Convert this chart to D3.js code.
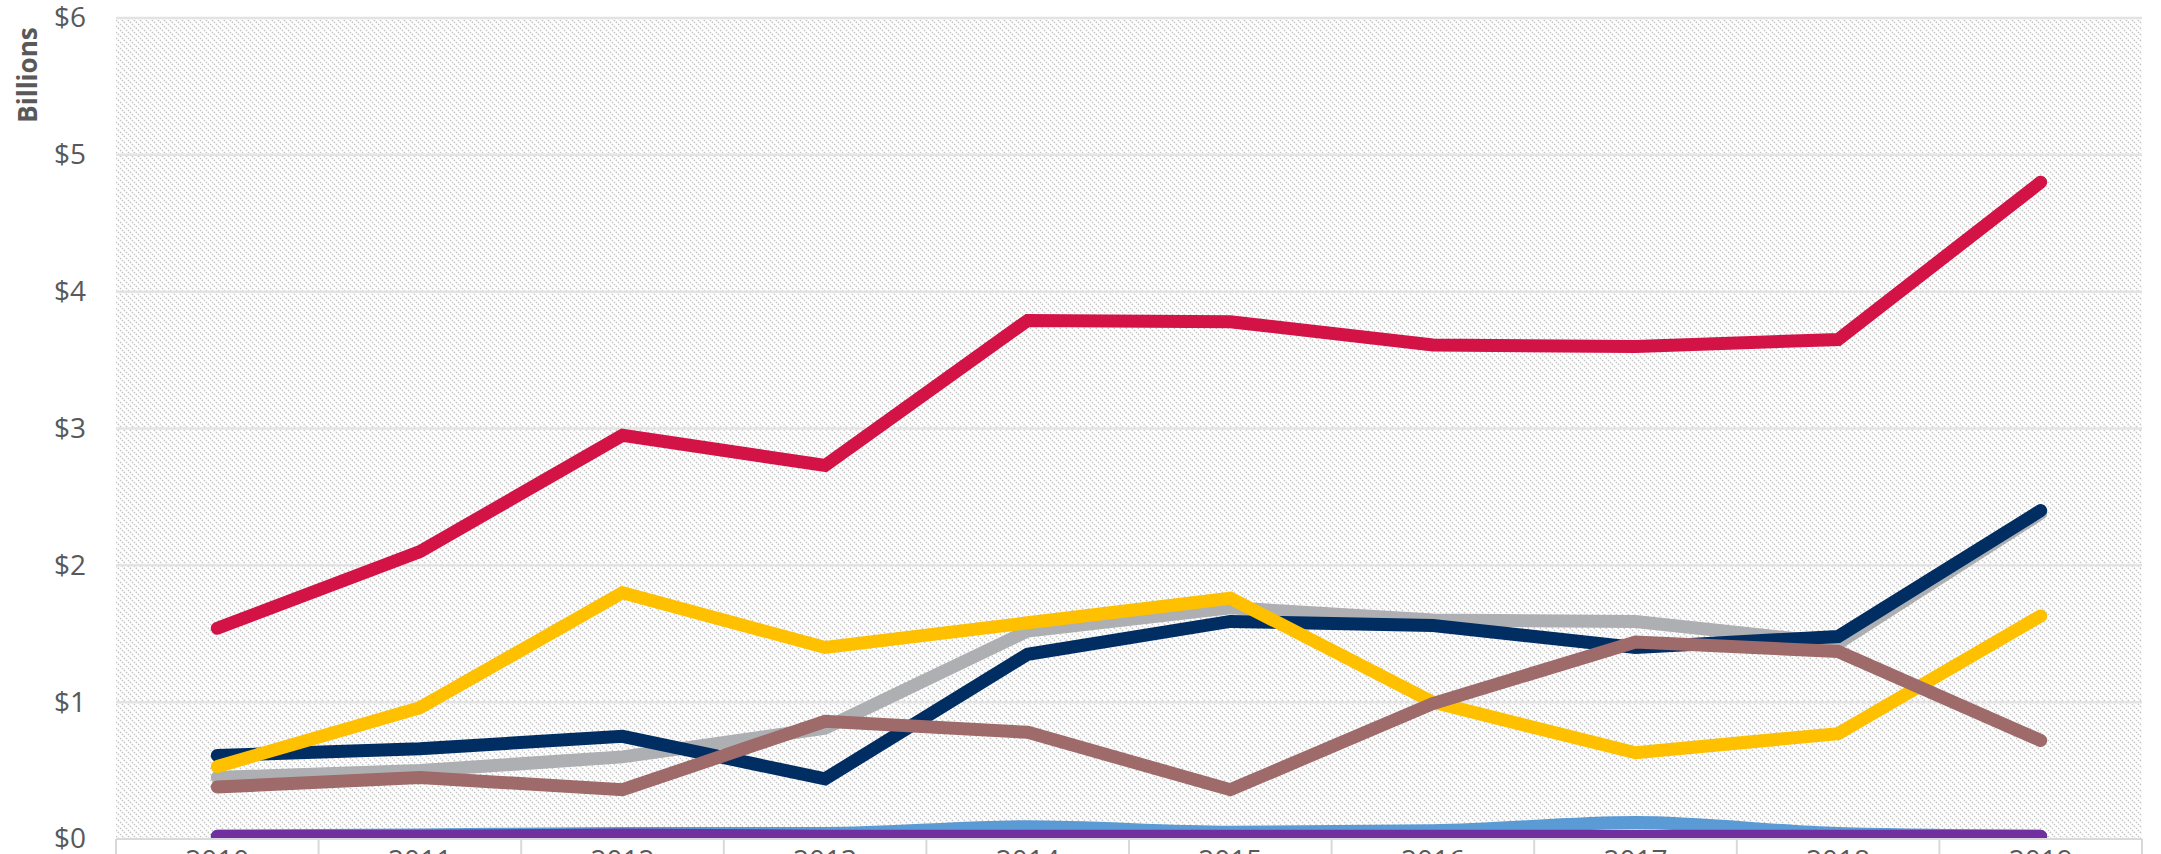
<!DOCTYPE html>
<html lang="en">
  <meta charset="utf-8">
  <style>
    body { margin: 0; background: #fff; }
    text { font-family: "Open Sans", sans-serif; fill: #595959; }
  </style>
  <body>
    <svg width="2161" height="854"></svg>

    <script src="https://d3js.org/d3.v7.min.js"></script>
    <script>
    // data, in billions of dollars
    let years = ['2010','2011','2012','2013','2014','2015','2016','2017','2018','2019']
    let yTicks = [0, 1, 2, 3, 4, 5, 6]

    let lightBlue = [0.02, 0.03, 0.04, 0.04, 0.09, 0.05, 0.06, 0.12, 0.04, 0.02]
    let purple    = [0.02, 0.02, 0.03, 0.02, 0.02, 0.02, 0.02, 0.02, 0.02, 0.02]
    let gray      = [0.45, 0.50, 0.60, 0.81, 1.52, 1.69, 1.60, 1.59, 1.43, 2.38]
    let navy      = [0.61, 0.66, 0.75, 0.44, 1.35, 1.59, 1.56, 1.40, 1.48, 2.40]
    let yellow    = [0.53, 0.96, 1.80, 1.40, 1.58, 1.76, 1.00, 0.63, 0.77, 1.63]
    let brown     = [0.38, 0.45, 0.36, 0.86, 0.78, 0.36, 0.99, 1.44, 1.37, 0.72]
    let red       = [1.54, 2.10, 2.95, 2.73, 3.79, 3.78, 3.61, 3.60, 3.65, 4.80]

    // drawing order = order in this list (later on top)
    let series = [
      { values: lightBlue, color: '#5b9bd5', smooth: true },
      { values: purple,    color: '#7030a0' },
      { values: gray,      color: '#adafb2' },
      { values: navy,      color: '#002d62' },
      { values: yellow,    color: '#ffc000' },
      { values: brown,     color: '#9e6a6a' },
      { values: red,       color: '#d31245' }
    ]

    let plotL = 116, plotR = 2142, plotT = 18, plotB = 839

    let x = d3.scaleBand().domain(years).range([plotL, plotR])
    let y = d3.scaleLinear().domain([0, 6]).range([plotB, plotT])

    let svg = d3.select('svg')
    let defs = svg.append('defs')

    // hatched plot background
    let pat = defs.append('pattern')
      .attr('id', 'hatch')
      .attr('patternUnits', 'userSpaceOnUse')
      .attr('width', 6).attr('height', 6)
    pat.append('path')
      .attr('d', 'M0,0 L6,6 M-1,5 L1,7 M5,-1 L7,1')
      .attr('stroke', '#c4c4c4')
      .attr('stroke-width', 1.5)
      .attr('stroke-dasharray', '1.5,1.2')

    defs.append('clipPath').attr('id', 'plot')
      .append('rect')
      .attr('x', plotL - 20).attr('y', 0)
      .attr('width', plotR - plotL + 40).attr('height', plotB)

    svg.append('rect')
      .attr('x', plotL).attr('y', plotT)
      .attr('width', plotR - plotL).attr('height', plotB - plotT)
      .attr('fill', 'url(#hatch)')

    // gridlines
    svg.append('g').selectAll('line')
      .data(yTicks.slice(1)).enter()
      .append('line')
      .attr('x1', plotL).attr('x2', plotR)
      .attr('y1', d => y(d)).attr('y2', d => y(d))
      .attr('stroke', '#e3e3e3')
      .attr('stroke-width', 2.5)

    // y axis labels
    let yAxis = g => g.call(d3.axisLeft(y).tickValues(yTicks).tickSize(0).tickPadding(0)
                              .tickFormat(d => '$' + d))
    let ya = svg.append('g').attr('transform', `translate(${plotL - 30},0)`).call(yAxis)
    ya.select('.domain').remove()
    ya.selectAll('text')
      .attr('font-size', '28px')
      .attr('font-family', '"Open Sans", sans-serif')
      .attr('fill', '#595959')

    svg.append('text')
      .attr('transform', 'translate(37,75) rotate(-90)')
      .attr('text-anchor', 'middle')
      .attr('font-size', '26px')
      .attr('font-weight', 'bold')
      .text('Billions')

    // lines
    let lineGroup = svg.append('g').attr('clip-path', 'url(#plot)')
    series.forEach(s => {
      let line = d3.line()
        .x((d, i) => x(years[i]) + x.bandwidth() / 2)
        .y(d => y(d))
        .curve(s.smooth ? d3.curveMonotoneX : d3.curveLinear)
      lineGroup.append('path')
        .datum(s.values)
        .attr('d', line)
        .attr('fill', 'none')
        .attr('stroke', s.color)
        .attr('stroke-width', 13)
        .attr('stroke-linecap', 'round')
        .attr('stroke-linejoin', 'miter')
    })

    // x axis
    let xa = svg.append('g').attr('transform', `translate(0,${plotB})`)
    xa.append('line')
      .attr('x1', plotL).attr('x2', plotR)
      .attr('stroke', '#d9d9d9').attr('stroke-width', 2)
    xa.selectAll('line.tick')
      .data(d3.range(years.length + 1)).enter()
      .append('line')
      .attr('class', 'tick')
      .attr('x1', i => plotL + i * x.step()).attr('x2', i => plotL + i * x.step())
      .attr('y1', 0).attr('y2', 20)
      .attr('stroke', '#d9d9d9').attr('stroke-width', 2)
    xa.selectAll('text')
      .data(years).enter()
      .append('text')
      .attr('x', d => x(d) + x.bandwidth() / 2)
      .attr('y', 31)
      .attr('text-anchor', 'middle')
      .attr('font-size', '28px')
      .text(d => d)
    </script>
</body>
</html>
